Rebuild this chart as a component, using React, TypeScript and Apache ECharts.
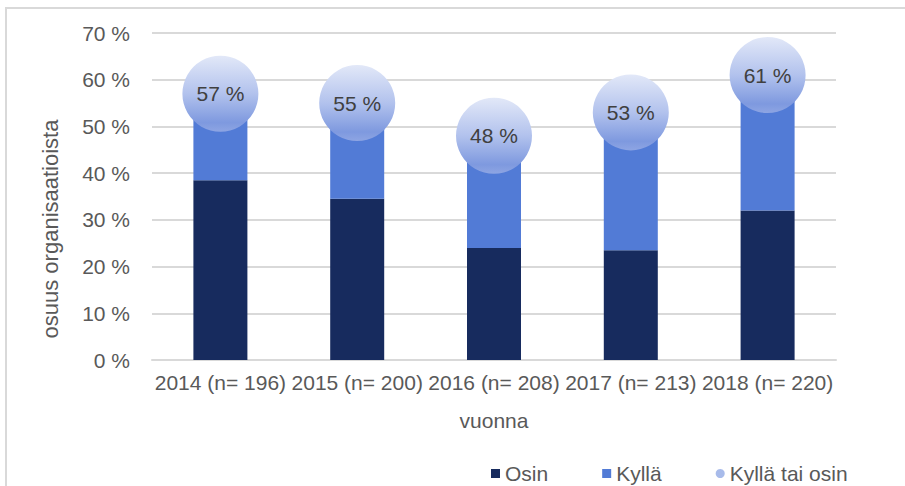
import React, { useEffect, useRef } from "react";
import * as echarts from "echarts";

const categories = ["2014 (n= 196)", "2015 (n= 200)", "2016 (n= 208)", "2017 (n= 213)", "2018 (n= 220)"];
const osin = [38.5, 34.5, 24, 23.5, 32];
const kylla = [18.5, 20.5, 24, 29.5, 29];
const kyllaTaiOsin = [57, 55, 48, 53, 61];
const yTicks = [0, 10, 20, 30, 40, 50, 60, 70];
const yAxisName = "osuus organisaatioista";
const xAxisName = "vuonna";

export default function App() {
  const ref = useRef<HTMLDivElement>(null);
  useEffect(() => {
    const chart = echarts.init(ref.current!, null, { renderer: "svg" });
    const font = "Liberation Sans, Arial, sans-serif";
    chart.setOption({
      animation: false,
      backgroundColor: "#ffffff",
      textStyle: { fontFamily: font },
      graphic: [
        {
          type: "polyline",
          shape: { points: [[6, 486], [6, 8], [905, 8]] },
          style: { stroke: "#d9d9d9", lineWidth: 2, fill: null },
          silent: true,
        },
        {
          type: "text",
          x: 50,
          y: 229,
          rotation: Math.PI / 2,
          style: {
            text: yAxisName,
            fontSize: 22,
            fill: "#595959",
            fontFamily: font,
            align: "center",
            verticalAlign: "middle",
          },
          silent: true,
        },
      ],
      grid: { left: 152, right: 69, top: 33, bottom: 126 },
      legend: {
        left: 486,
        top: 458,
        itemWidth: 9,
        itemHeight: 9,
        itemGap: 54,
        textStyle: { fontSize: 21, color: "#595959", fontFamily: font },
        data: [
          { name: "Osin", icon: "rect" },
          { name: "Kyllä", icon: "rect" },
          { name: "Kyllä tai osin", icon: "circle", itemStyle: { color: "#a8bbea" } },
        ],
      },
      xAxis: {
        type: "category",
        data: categories,
        name: xAxisName,
        nameLocation: "middle",
        nameGap: 50,
        nameTextStyle: { fontSize: 21, color: "#595959", fontFamily: font },
        axisLine: { show: true, lineStyle: { color: "#d9d9d9", width: 2 } },
        axisTick: { show: false },
        axisLabel: { fontSize: 21, color: "#595959", margin: 12, interval: 0, fontFamily: font },
      },
      yAxis: {
        type: "value",
        min: 0,
        max: 70,
        interval: 10,
        axisLine: { show: false },
        axisTick: { show: false },
        splitLine: { lineStyle: { color: "#d9d9d9", width: 2 } },
        axisLabel: {
          fontSize: 21,
          color: "#595959",
          margin: 22,
          fontFamily: font,
          formatter: (v: number) => (yTicks.includes(v) ? `${v} %` : ""),
        },
      },
      series: [
        {
          name: "Osin",
          type: "bar",
          stack: "total",
          data: osin,
          barWidth: 54,
          itemStyle: { color: "#172b5e" },
        },
        {
          name: "Kyllä",
          type: "bar",
          stack: "total",
          data: kylla,
          barWidth: 54,
          itemStyle: { color: "#527bd6" },
        },
        {
          name: "Kyllä tai osin",
          type: "scatter",
          data: kyllaTaiOsin,
          symbol: "circle",
          symbolSize: 76,
          z: 5,
          itemStyle: {
            opacity: 1,
            color: {
              type: "linear",
              x: 0,
              y: 0,
              x2: 0,
              y2: 1,
              colorStops: [
                { offset: 0, color: "#e2e8f8" },
                { offset: 0.5, color: "#b2c2ed" },
                { offset: 0.88, color: "#7e99df" },
                { offset: 1, color: "#8ea5e3" },
              ],
            },
          },
          label: {
            show: true,
            position: "inside",
            formatter: (p: any) => `${p.value} %`,
            fontSize: 21,
            color: "#404040",
            fontFamily: font,
          },
        },
      ],
    });
    return () => chart.dispose();
  }, []);
  return <div ref={ref} style={{ position: "fixed", left: 0, top: 0, width: 905, height: 486 }} />;
}
